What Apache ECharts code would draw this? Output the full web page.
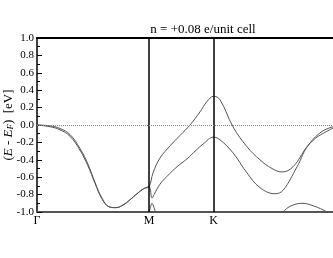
<!DOCTYPE html>
<html><head><meta charset="utf-8">
<script src="https://cdn.jsdelivr.net/npm/echarts@6/dist/echarts.min.js"></script>
<style>html,body{margin:0;padding:0;background:#fff}#c{width:333px;height:258px}</style>
</head><body><div id="c"></div>
<script>
// k-path positions (Γ, M, K, Γ) and labels
const kTicks = [0, 1.0, 1.577, 2.732];
const kLabels = ['Γ', 'M', 'K', 'Γ'];
const titleText = 'n = +0.08 e/unit cell';

// band 1 (upper of the pair)
const band1K = [0, 0.116, 0.205, 0.295, 0.384, 0.455, 0.518, 0.58, 0.643, 0.705, 0.768, 0.83, 0.893, 0.955, 1.0,
  1.036, 1.098, 1.188, 1.277, 1.366, 1.455, 1.518, 1.577,
  1.634, 1.75, 1.875, 1.991, 2.098, 2.188, 2.286, 2.411, 2.527, 2.643, 2.732];
const band1E = [0.00, -0.01, -0.04, -0.11, -0.27, -0.45, -0.66, -0.84, -0.94, -0.95, -0.92, -0.86, -0.79, -0.73, -0.71,
  -0.55, -0.38, -0.24, -0.12, 0.00, 0.15, 0.27, 0.33,
  0.29, -0.02, -0.25, -0.40, -0.50, -0.54, -0.48, -0.25, -0.09, -0.02, 0.00];

// band 2 (lower of the pair)
const band2K = [0, 0.116, 0.205, 0.295, 0.384, 0.455, 0.518, 0.58, 0.643, 0.705, 0.768, 0.83, 0.893, 0.955, 1.0,
  1.027, 1.045, 1.098, 1.161, 1.25, 1.339, 1.42, 1.482, 1.577,
  1.634, 1.75, 1.875, 1.991, 2.125, 2.197, 2.322, 2.438, 2.643, 2.732];
const band2E = [0.00, -0.02, -0.055, -0.13, -0.29, -0.47, -0.67, -0.85, -0.94, -0.95, -0.92, -0.86, -0.79, -0.73, -0.71,
  -0.84, -0.80, -0.68, -0.59, -0.48, -0.39, -0.29, -0.22, -0.14,
  -0.17, -0.32, -0.55, -0.72, -0.79, -0.75, -0.48, -0.21, -0.035, 0.00];

// band 3 (peeking above -1 near M)
const band3K = [0.995, 1.012, 1.027, 1.045, 1.065];
const band3E = [-1.04, -0.95, -0.90, -0.95, -1.04];

// band 4 (peeking above -1 between K and Γ)
const band4K = [2.17, 2.197, 2.26, 2.366, 2.47, 2.59, 2.62];
const band4E = [-1.04, -1.0, -0.935, -0.90, -0.93, -1.0, -1.03];

const zip = (a, b) => a.map((x, i) => [x, b[i]]);
const serif = 'Liberation Serif, Times New Roman, serif';
const lineStyle = { color: '#555', width: 1 };

const chart = echarts.init(document.getElementById('c'), null, { renderer: 'canvas' });
chart.setOption({
  animation: false,
  title: {
    text: titleText, left: 198, top: 18, textAlign: 'center',
    textStyle: { fontFamily: serif, fontSize: 13, fontWeight: 'normal', color: '#000' }
  },
  grid: { left: 37, right: 0, top: 38, bottom: 46, containLabel: false, outerBoundsMode: 'none' },
  xAxis: [{
    type: 'value', min: 0, max: 2.643, position: 'bottom',
    axisLine: { show: true, onZero: false, lineStyle: { color: '#555', width: 2 } },
    axisTick: { show: false },
    splitLine: { show: false },
    axisLabel: {
      customValues: kTicks.slice(0, 3), margin: 3,
      formatter: v => { const i = kTicks.findIndex(t => Math.abs(t - v) < 1e-6); return i >= 0 ? kLabels[i] : ''; },
      fontFamily: serif, fontSize: 12, color: '#000'
    }
  }, {
    type: 'value', min: 0, max: 2.643, position: 'top',
    axisLine: { show: true, onZero: false, lineStyle: { color: '#000', width: 2 } },
    axisTick: { show: false }, axisLabel: { show: false }, splitLine: { show: false }
  }],
  yAxis: {
    type: 'value', min: -1, max: 1, interval: 0.2,
    axisLine: { show: true, onZero: false, lineStyle: { color: '#000', width: 1.5 } },
    axisTick: { show: true, inside: true, length: 5, lineStyle: { color: '#000', width: 1 } },
    minorTick: { show: true, splitNumber: 2, length: 3, lineStyle: { color: '#000', width: 1 } },
    splitLine: { show: false },
    axisLabel: {
      margin: 3, fontFamily: serif, fontSize: 11, color: '#000',
      formatter: v => (Math.abs(v) < 1e-9 ? 0 : v).toFixed(1)
    },
    name: '{p|(}{i|E}{p| - }{i|E}{s|F}{p|)  [eV]}',
    nameLocation: 'middle', nameGap: 22, nameRotate: 90, nameMoveOverlap: false,
    nameTextStyle: {
      fontFamily: serif, fontSize: 13, color: '#000',
      rich: {
        p: { fontFamily: serif, fontSize: 13, color: '#000' },
        i: { fontFamily: serif, fontSize: 13, fontStyle: 'italic', color: '#000' },
        s: { fontFamily: serif, fontSize: 9, fontStyle: 'italic', color: '#000', verticalAlign: 'bottom', padding: [4, 0, 0, 0] }
      }
    }
  },
  series: [
    {
      type: 'line', data: zip(band1K, band1E), smooth: 0.4, symbol: 'none', lineStyle, clip: true, z: 3,
      markLine: {
        silent: true, symbol: 'none', label: { show: false },
        data: [
          { xAxis: kTicks[1], lineStyle: { color: '#000', width: 1.5, type: 'solid' } },
          { xAxis: kTicks[2], lineStyle: { color: '#000', width: 1.5, type: 'solid' } },
          { yAxis: 0, lineStyle: { color: '#888', width: 1, type: 'dotted' } }
        ]
      }
    },
    { type: 'line', data: zip(band2K, band2E), smooth: 0.4, symbol: 'none', lineStyle, clip: true, z: 3 },
    { type: 'line', data: zip(band3K, band3E), smooth: 0.4, symbol: 'none', lineStyle, clip: true, z: 3 },
    { type: 'line', data: zip(band4K, band4E), smooth: 0.4, symbol: 'none', lineStyle, clip: true, z: 3 }
  ]
});
</script></body></html>
